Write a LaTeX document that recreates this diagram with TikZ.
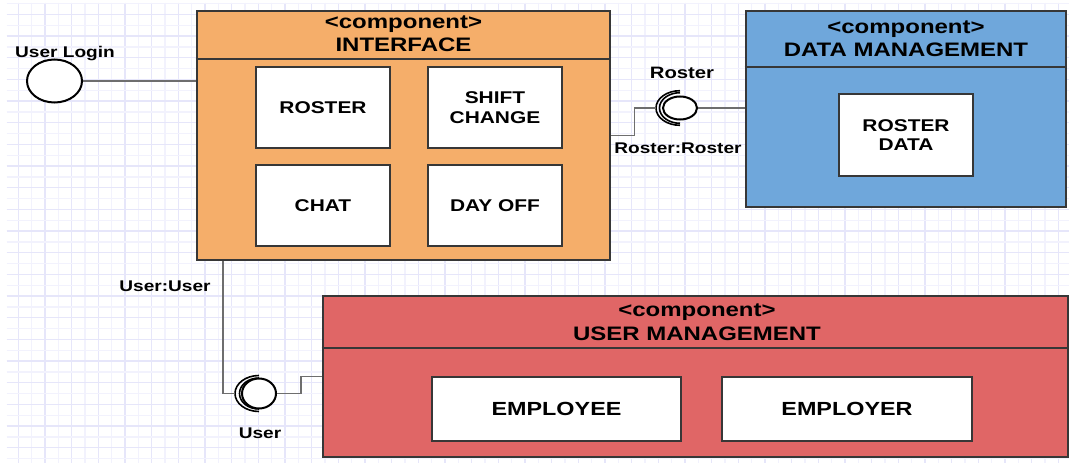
\documentclass[tikz,border=0pt]{standalone}
\usepackage{fontspec}
\setmainfont[FakeStretch=1.23]{Liberation Sans}
\usetikzlibrary{shapes.geometric,calc}

\definecolor{gridmajor}{RGB}{230,230,250}
\definecolor{gridminor}{RGB}{242,242,253}
\definecolor{ifacefill}{RGB}{245,174,106}
\definecolor{datafill}{RGB}{111,167,219}
\definecolor{userfill}{RGB}{224,102,102}
\definecolor{edge}{RGB}{55,55,55}
\definecolor{wirecol}{RGB}{110,110,110}

\begin{document}
\begin{tikzpicture}[x=1pt,y=-1pt,
  comp/.style={draw=edge,line width=2.6pt,rectangle,inner sep=0pt},
  part/.style={draw=edge,line width=2pt,fill=white,rectangle,inner sep=0pt,align=center,
    font=\fontsize{17}{19.5}\selectfont\bfseries},
  bigpart/.style={part,font=\fontsize{19}{22}\selectfont\bfseries},
  head/.style={anchor=base,inner sep=0pt,font=\fontsize{19.5}{23}\selectfont\bfseries},
  lbl/.style={anchor=base,inner sep=0pt,font=\fontsize{15.5}{18}\selectfont\bfseries},
  ball/.style={ellipse,draw=black,line width=2pt,fill=white,inner sep=0pt},
  sock/.style={draw=black,line width=1.6pt},
  wire/.style={draw=wirecol,line width=1.6pt},
  divider/.style={draw=edge,line width=2.4pt}]

\useasboundingbox[fill=white] (0,0) rectangle (1069,463);

% background grid
\foreach \k in {0,...,79}{
  \pgfmathsetmacro{\gx}{18.3+13.333*\k}
  \ifodd\k \def\gc{gridminor}\else\def\gc{gridmajor}\fi
  \draw[\gc,line width=1.3pt] (\gx,2.7) -- (\gx,463);
}
\foreach \k in {0,...,42}{
  \pgfmathsetmacro{\gy}{3.65+10.833*\k}
  \ifodd\k \def\gc{gridmajor}\else\def\gc{gridminor}\fi
  \draw[\gc,line width=1.3pt] (6.7,\gy) -- (1069,\gy);
}

% components
\node[comp,fill=ifacefill,minimum width=413,minimum height=249] (iface) at (403.5,135.5) {};
\node[comp,fill=datafill,minimum width=320,minimum height=196] (dm) at (906,109) {};
\node[comp,fill=userfill,minimum width=745,minimum height=161] (um) at (695.5,376.5) {};

\draw[divider] (iface.west |- 0,59) -- (iface.east |- 0,59);
\draw[divider] (dm.west |- 0,67) -- (dm.east |- 0,67);
\draw[divider] (um.west |- 0,348) -- (um.east |- 0,348);

\node[head] (iface-st) at (403.5,28.3) {<component>};
\node[head] (iface-nm) at (403.5,51.7) {INTERFACE};
\node[head] (dm-st) at (906,33.3) {<component>};
\node[head] (dm-nm) at (906,56) {DATA MANAGEMENT};
\node[head] (um-st) at (697,316) {<component>};
\node[head] (um-nm) at (697,340) {USER MANAGEMENT};

% parts
\node[part,minimum width=134,minimum height=81] (roster) at (323,107.5) {ROSTER};
\node[part,minimum width=134,minimum height=81] (shift) at (495,107.5) {SHIFT\\CHANGE};
\node[part,minimum width=134,minimum height=81] (chat) at (323,205.5) {CHAT};
\node[part,minimum width=134,minimum height=81] (dayoff) at (495,205.5) {DAY OFF};
\node[part,minimum width=134,minimum height=82] (rdata) at (906,135) {ROSTER\\DATA};
\node[bigpart,minimum width=249,minimum height=64] (employee) at (556.5,409) {EMPLOYEE};
\node[bigpart,minimum width=250,minimum height=64] (employer) at (847,409) {EMPLOYER};

% provided / required interfaces
\node[ball,minimum width=55,minimum height=43] (ulogin) at (54.5,81) {};
\node[ball,minimum width=34,minimum height=23] (rball) at (680,108) {};
\node[ball,minimum width=34,minimum height=30] (uball) at (259,393.5) {};

\draw[sock] (rball.center) ++(0,17.3) arc[start angle=90,end angle=270,x radius=24,y radius=17.3];
\draw[sock] (rball.center) ++(0,15.3) arc[start angle=90,end angle=270,x radius=20.5,y radius=15.3];
\draw[sock] (uball.center) ++(0,18) arc[start angle=90,end angle=270,x radius=24,y radius=18];
\draw[sock] (uball.center) ++(0,15.5) arc[start angle=90,end angle=270,x radius=19.5,y radius=15.5];

\coordinate (rsock) at ($(rball.center)+(-24,0)$);
\coordinate (usock) at ($(uball.center)+(-24,0)$);
\coordinate (ifport) at ($(iface.south west)+(27,0)$);

% wires
\draw[wire] (ulogin.east) -- (ulogin.east -| iface.west);
\draw[wire] (iface.east) -- ++(23,0) |- (rsock);
\draw[wire] (rball.east) -- (rball.east -| dm.west);
\draw[wire] (ifport) |- (usock);
\draw[wire] (uball.east) -- ++(24,0) |- (um.west);

% labels
\node[lbl] (l-login) at (65,57) {User Login};
\node[lbl,font=\fontsize{16.5}{19}\selectfont\bfseries] (l-roster) at (682,78.3) {Roster};
\node[lbl] (l-rr) at (678,153) {Roster:Roster};
\node[lbl] (l-uu) at (165,291.7) {User:User};
\node[lbl] (l-user) at (260,438) {User};
\end{tikzpicture}
\end{document}
